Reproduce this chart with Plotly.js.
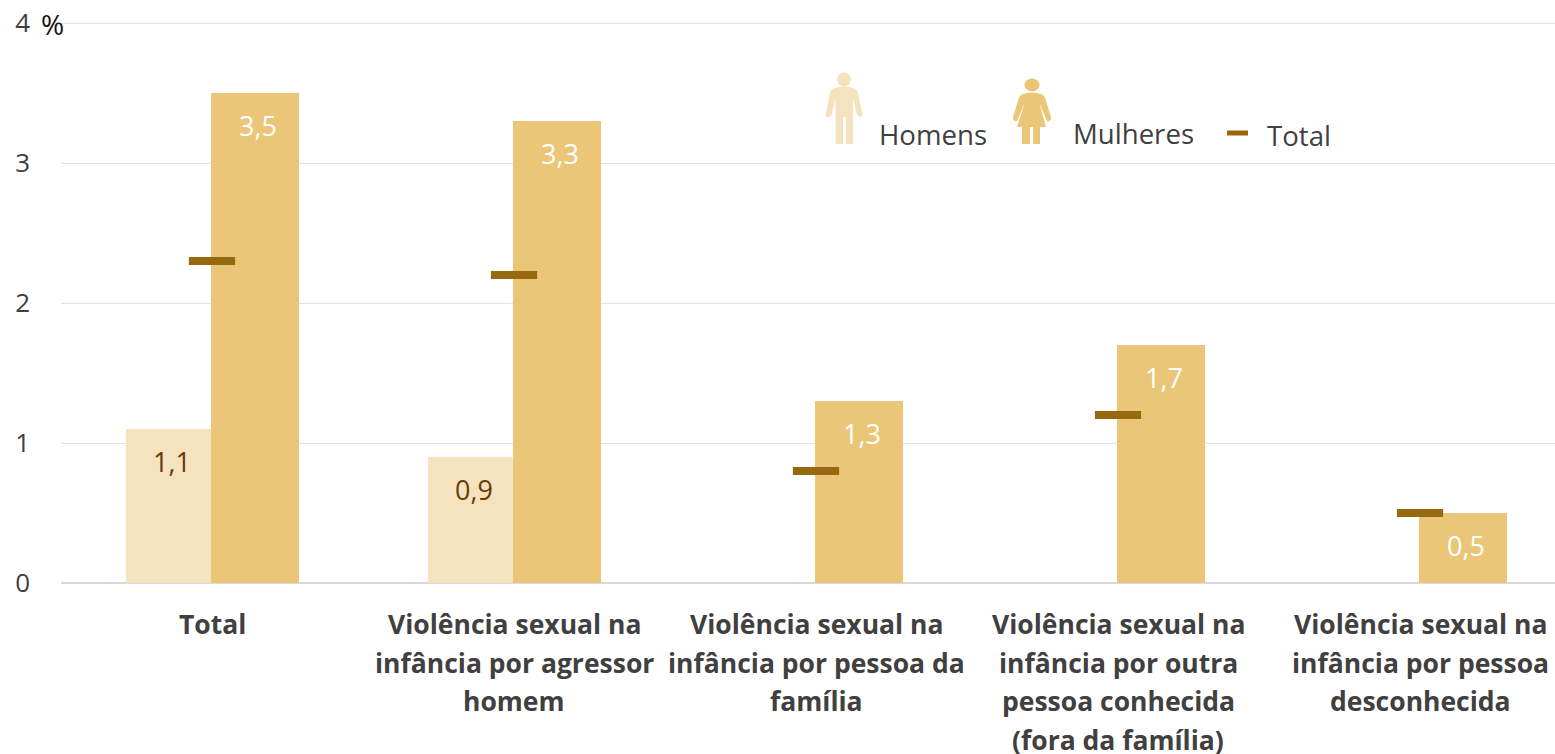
<!DOCTYPE html>
<html>
<head>
<meta charset="utf-8">
<script src="https://cdn.plot.ly/plotly-3.0.1.min.js"></script>
<style>html,body{margin:0;padding:0;background:#fff}#c{width:1555px;height:754px}</style>
</head>
<body>
<div id="c"></div>
<script>
const categories = [
  "Total",
  "Violência sexual na<br>infância por agressor<br>homem",
  "Violência sexual na<br>infância por pessoa da<br>família",
  "Violência sexual na<br>infância por outra<br>pessoa conhecida<br>(fora da família)",
  "Violência sexual na<br>infância por pessoa<br>desconhecida"
];
const homens = [1.1, 0.9, null, null, null];
const mulheres = [3.5, 3.3, 1.3, 1.7, 0.5];
const total = [2.3, 2.2, 0.8, 1.2, 0.5];
const yTicks = [0, 1, 2, 3, 4];

const FONT = '"Open Sans", sans-serif';
const TEXT = '#404040';
const cMen = '#f5e3c0', cWomen = '#ebc578', cTotal = '#96680f', cMenText = '#6b3a00';
const L = 61, T = 13, R = 1555, B = 583;
const px = x => (x - L) / (R - L);
const py = y => (B - y) / (B - T);
const P = (s) => s.replace(/(-?[\d.]+),(-?[\d.]+)/g, (m, a, b) => px(+a) + ',' + py(+b));
const xIdx = categories.map((_, i) => i);
const fmt = v => v.toFixed(1).replace('.', ',');

const traces = [
  {type:'bar', name:'Homens', x:xIdx, y:homens, width:0.2815, offset:-0.285, marker:{color:cMen}, hoverinfo:'y', showlegend:false},
  {type:'bar', name:'Mulheres', x:xIdx, y:mulheres, width:0.2914, offset:-0.0033, marker:{color:cWomen}, hoverinfo:'y', showlegend:false},
  {type:'scatter', mode:'markers', name:'Total', x:xIdx, y:total, marker:{symbol:'line-ew', size:33, color:cTotal, line:{color:cTotal, width:8}}, hoverinfo:'y', showlegend:false}
];

const annotations = [];
categories.forEach((c, i) => {
  c.split('<br>').forEach((line, j) => {
    annotations.push({x:i, xref:'x', y:py(624 + j * 38.7), yref:'paper', text:line, showarrow:false, xanchor:'center', yanchor:'middle',
      font:{family:FONT, size:26.5, color:TEXT, weight:700}});
  });
});
homens.forEach((v, i) => { if (v != null) annotations.push({x:i, y:v, text:fmt(v), showarrow:false, xanchor:'center', yanchor:'middle', xshift:-40, yshift:-32, font:{family:FONT, size:27, color:cMenText}}); });
mulheres.forEach((v, i) => annotations.push({x:i, y:v, text:fmt(v), showarrow:false, xanchor:'center', yanchor:'middle', xshift:46, yshift:-32, font:{family:FONT, size:27, color:'#ffffff'}}));
const legendText = [["Homens", 880, 134], ["Mulheres", 1074, 133], ["Total", 1268, 135]];
legendText.forEach(t => annotations.push({x:px(t[1]), xref:'paper', y:py(t[2]), yref:'paper', text:t[0], showarrow:false, xanchor:'left', yanchor:'middle', xshift:-3, font:{family:FONT, size:27.6, color:TEXT}}));
annotations.push({x:px(42), xref:'paper', y:py(24), yref:'paper', text:'%', showarrow:false, xanchor:'left', yanchor:'middle', xshift:-3, font:{family:FONT, size:28, color:'#111111'}});

const manBody = 'M835,88 Q844,85 853,88 Q857,89 858,93 L862,113 Q863,117 860,117 Q858,117 857,114 L853,99 L853,144 L846,144 L846,117 L843,117 L843,144 L835.5,144 L835.5,99 L832,114 Q831,117 828,117 Q825,117 826,113 L830,93 Q831,89 835,88 Z';
const womanBody = 'M1023,94 Q1032,91 1041,94 Q1044,95 1045,98 L1051,117 Q1052,120 1049,121 Q1047,122 1046,119 L1039,102 L1046,127 L1040,127 L1040,144 L1033,144 L1033,127 L1030,127 L1030,144 L1022,144 L1022,127 L1017,127 L1025,102 L1018,119 Q1017,122 1015,121 Q1012,120 1013,117 L1019,98 Q1020,95 1023,94 Z';
const shapes = [
  {type:'path', xref:'paper', yref:'paper', path:P(manBody), fillcolor:cMen, line:{width:0}},
  {type:'circle', xref:'paper', yref:'paper', x0:px(837), x1:px(851), y0:py(86.5), y1:py(72.5), fillcolor:cMen, line:{width:0}},
  {type:'path', xref:'paper', yref:'paper', path:P(womanBody), fillcolor:cWomen, line:{width:0}},
  {type:'circle', xref:'paper', yref:'paper', x0:px(1024.5), x1:px(1039.5), y0:py(91.5), y1:py(78.5), fillcolor:cWomen, line:{width:0}},
  {type:'rect', xref:'paper', yref:'paper', x0:px(1227), x1:px(1248), y0:py(135.5), y1:py(130.5), fillcolor:cTotal, line:{width:0}}
];

const layout = {
  width:1555, height:754,
  margin:{l:L, r:0, t:T, b:754 - B, pad:0},
  paper_bgcolor:'#fff', plot_bgcolor:'#fff',
  barmode:'overlay', showlegend:false,
  font:{family:FONT, color:TEXT},
  xaxis:{type:'linear', range:[-0.5, 4.447], tickvals:xIdx, showticklabels:false, ticks:'', showgrid:false, zeroline:false, showline:false},
  yaxis:{range:[0, 570/140], tickvals:yTicks, ticktext:yTicks.map(String), ticks:'', ticklabelstandoff:30, tickfont:{family:FONT, size:26, color:TEXT},
         showgrid:true, gridcolor:'#e2e2e2', gridwidth:1, zeroline:true, zerolinecolor:'#d9d9d9', zerolinewidth:2, showline:false},
  annotations, shapes
};
Plotly.newPlot('c', traces, layout, {displayModeBar:false, staticPlot:true});
</script>
</body>
</html>
